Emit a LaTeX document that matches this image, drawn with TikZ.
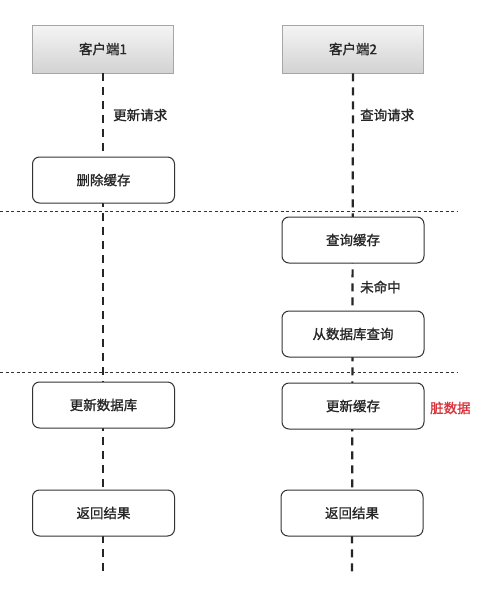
\documentclass[tikz,border=0pt]{standalone}
\usepackage{fontspec}
\newfontfamily\cjk[FakeBold=1.2]{Noto Sans CJK SC}
\definecolor{dirty}{HTML}{D8333B}
\begin{document}
\begin{tikzpicture}[x=1pt,y=-1pt,
  every node/.style={font=\cjk\fontsize{13.5}{15}\selectfont, text=black!85},
  header/.style={draw=gray!70, line width=0.8pt, top color=gray!8, bottom color=gray!35, minimum width=141pt, minimum height=48pt, inner sep=0pt},
  stepbox/.style={draw=black!80, line width=1pt, fill=white, rounded corners=7pt, minimum width=142pt, minimum height=46pt, inner sep=0pt},
  lifeline/.style={draw=black!85, line width=2.2pt, dash pattern=on 8pt off 6pt},
  sep/.style={draw=black!80, line width=0.8pt, dash pattern=on 3pt off 2.5pt},
  lbl/.style={anchor=west, inner sep=0pt}
]
\useasboundingbox (0,0) rectangle (490,600);
\fill[white] (0,0) rectangle (490,600);
% lifeline ends
\coordinate (e1) at (103,572);
\coordinate (e2) at (352,572);
% headers
\node[header] (c1) at (103,49) {客户端1};
\node[header] (c2) at (353,49) {客户端2};
% lifelines
\draw[lifeline] (c1.south) -- (e1);
\draw[lifeline] (c2.south) -- (e2);
% separators
\coordinate (s1a) at (0,211);
\coordinate (s1b) at (458,211);
\coordinate (s2a) at (0,372);
\coordinate (s2b) at (458,372);
\draw[sep] (s1a) -- (s1b);
\draw[sep] (s2a) -- (s2b);
% boxes
\node[stepbox] (del) at (103.5,180) {删除缓存};
\node[stepbox] (q) at (353,240) {查询缓存};
\node[stepbox] (db) at (353,334) {从数据库查询};
\node[stepbox] (upd) at (103.5,405) {更新数据库};
\node[stepbox] (upc) at (353,406) {更新缓存};
\node[stepbox] (r1) at (103.5,513) {返回结果};
\node[stepbox] (r2) at (352,513) {返回结果};
% labels
\node[lbl] (l1) at (113,115) {更新请求};
\node[lbl] (l2) at (360,115) {查询请求};
\node[lbl] (l3) at (360,287) {未命中};
\node[lbl, text=dirty] (l4) at (430,408) {脏数据};
\end{tikzpicture}
\end{document}
